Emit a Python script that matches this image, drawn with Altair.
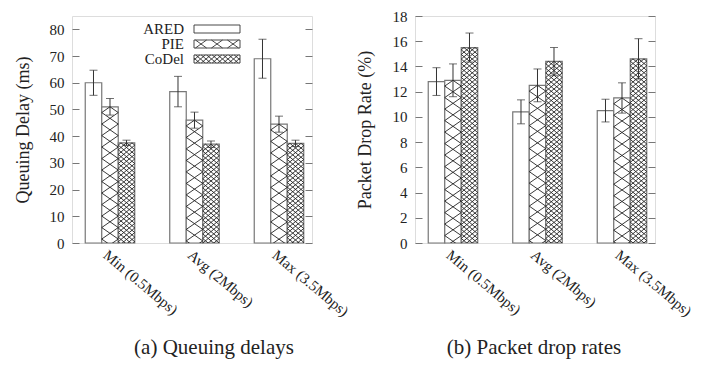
import altair as alt
import pandas as pd

# ---------------- data ----------------
groups = ["Min (0.5Mbps)", "Avg (2Mbps)", "Max (3.5Mbps)"]
series = ["ARED", "PIE", "CoDel"]

delay_ared = [60.0, 56.7, 69.0]
delay_pie = [51.0, 46.0, 44.5]
delay_codel = [37.5, 37.0, 37.3]
delay_err_ared = [4.7, 5.7, 7.3]
delay_err_pie = [3.1, 3.0, 3.0]
delay_err_codel = [1.0, 1.2, 1.2]

drop_ared = [12.8, 10.4, 10.5]
drop_pie = [12.9, 12.5, 11.5]
drop_codel = [15.5, 14.4, 14.6]
drop_err_ared = [1.1, 0.95, 0.9]
drop_err_pie = [1.3, 1.3, 1.2]
drop_err_codel = [1.15, 1.1, 1.6]

delay_ticks = [0, 10, 20, 30, 40, 50, 60, 70, 80]
drop_ticks = [0, 2, 4, 6, 8, 10, 12, 14, 16, 18]


def make_df(vals, errs):
    rows = []
    for s, v, e in zip(series, vals, errs):
        for g, vv, ee in zip(groups, v, e):
            rows.append({"group": g, "series": s, "value": vv, "err": ee})
    return pd.DataFrame(rows)


delay_df = make_df([delay_ared, delay_pie, delay_codel],
                   [delay_err_ared, delay_err_pie, delay_err_codel])
drop_df = make_df([drop_ared, drop_pie, drop_codel],
                  [drop_err_ared, drop_err_pie, drop_err_codel])

# ---------------- style ----------------
W, H = 240, 227
BAR_W = 16.5
FONT = "Liberation Serif"
TXT = "#222222"
FRAME = "#777777"


def hatch_lines(w, y0, y1, cw, ch):
    """diagonal crosshatch glyph (pixel units) clipped to x in [-w/2, w/2], y in [y0, y1]"""
    s = ch / cw
    half = w / 2
    span = max(abs(y0), abs(y1)) / s + half
    kmax = int(span // cw) + 2
    segs = []
    for sign in (1, -1):
        for k in range(-kmax, kmax + 1):
            x0 = k * cw
            if sign == 1:
                lo, hi = s * (-half - x0), s * (half - x0)
            else:
                lo, hi = s * (x0 - half), s * (x0 + half)
            a, b = max(y0, lo), min(y1, hi)
            if b - a > 1e-6:
                xa = x0 + sign * a / s
                xb = x0 + sign * b / s
                segs.append(f"M{xa:.2f},{a:.2f}L{xb:.2f},{b:.2f}")
    return "".join(segs)


PIE_CELL = (16.5, 11.5)
CODEL_CELL = (5.5, 4.6)
pie_bar_path = hatch_lines(BAR_W, 0, 245, *PIE_CELL)
codel_bar_path = hatch_lines(BAR_W, 0, 245, *CODEL_CELL)

KW, KH = 46, 8
box = f"M{-KW/2},{-KH/2}L{KW/2},{-KH/2}L{KW/2},{KH/2}L{-KW/2},{KH/2}Z"
key_paths = {
    "ARED": box,
    "PIE": box + hatch_lines(KW, -KH / 2, KH / 2, 16.0, 11.5),
    "CoDel": box + hatch_lines(KW, -KH / 2, KH / 2, *CODEL_CELL),
}

x_enc = alt.X(
    "group:N", sort=groups,
    scale=alt.Scale(domain=groups, paddingInner=0.4142, paddingOuter=0.1272, align=0.616),
    axis=alt.Axis(title=None, labelAngle=40, labelAlign="left", labelBaseline="top",
                  labelPadding=4, labelFontSize=15, ticks=False, domain=False,
                  labelFont=FONT, labelColor=TXT),
)
xo_enc = alt.XOffset("series:N", sort=series,
                     scale=alt.Scale(domain=series, paddingInner=0, paddingOuter=0))


def panel(df, domain, ticks, ytitle, caption, caption_dx, title_pad, label_pad):
    def y_enc(field):
        return alt.Y(
            field, scale=alt.Scale(domain=domain, nice=False, zero=True),
            axis=alt.Axis(values=ticks, title=ytitle, titleFontSize=18, titleFont=FONT,
                          titleFontWeight="normal", titleColor=TXT, titlePadding=title_pad,
                          labelFont=FONT, labelFontSize=15, labelColor=TXT,
                          labelPadding=label_pad, ticks=False, domain=False,
                          grid=True, gridColor=FRAME, gridWidth=1,
                          gridDash=[7, W - 14, 14]),
        )

    base = alt.Chart(df).encode(x=x_enc, xOffset=xo_enc)

    bars = base.mark_bar(fill="white", stroke=FRAME, strokeWidth=1.2).encode(y=y_enc("value:Q"))

    hatch = base.transform_filter(
        alt.FieldOneOfPredicate(field="series", oneOf=["PIE", "CoDel"])
    ).mark_point(filled=False, size=4, stroke="#222222", strokeWidth=0.9,
                 opacity=1, clip=True).encode(
        y=y_enc("value:Q"),
        shape=alt.Shape("series:N",
                        scale=alt.Scale(domain=["PIE", "CoDel"],
                                        range=[pie_bar_path, codel_bar_path]),
                        legend=None),
    )

    eb = base.transform_calculate(lo="datum.value - datum.err", hi="datum.value + datum.err")
    rule = eb.mark_rule(color="#333333", strokeWidth=1).encode(y=y_enc("lo:Q"), y2="hi:Q")
    cap_lo = eb.mark_tick(color="#333333", size=8, thickness=1, orient="horizontal").encode(y=y_enc("lo:Q"))
    cap_hi = eb.mark_tick(color="#333333", size=8, thickness=1, orient="horizontal").encode(y=y_enc("hi:Q"))

    return alt.layer(bars, hatch, rule, cap_lo, cap_hi).properties(
        width=W, height=H,
        title=alt.TitleParams(caption, orient="bottom", anchor="middle", fontSize=21,
                              font=FONT, fontWeight="normal", color=TXT, offset=18,
                              dx=caption_dx),
    )


left = panel(delay_df, [0, 85], delay_ticks, "Queuing Delay (ms)", "(a) Queuing delays", 22, 17, 8)
right = panel(drop_df, [0, 18], drop_ticks, "Packet Drop Rate (%)", "(b) Packet drop rates", -1, 18, 8)

# legend (inside left panel)
legend_layers = []
for i, name in enumerate(series):
    ldf = pd.DataFrame({"series": [name]})
    ypos = 13 + 15 * i
    legend_layers.append(
        alt.Chart(ldf).mark_text(align="right", baseline="middle", font=FONT, fontSize=15,
                                 color=TXT).encode(text="series:N", x=alt.value(112), y=alt.value(ypos))
    )
    legend_layers.append(
        alt.Chart(ldf).mark_point(shape=key_paths[name], size=4, filled=False, stroke="#333333",
                                  strokeWidth=0.9, opacity=1).encode(x=alt.value(145), y=alt.value(ypos))
    )

left = alt.layer(left, *legend_layers)

chart = alt.hconcat(left, right, spacing=103, bounds="flush").properties(
    padding={"top": 0, "left": 5, "right": 5, "bottom": 2}
).configure_view(stroke=FRAME, strokeWidth=1).configure(background="white")

chart.save("out.html", embed_options={"renderer": "svg", "actions": False})
